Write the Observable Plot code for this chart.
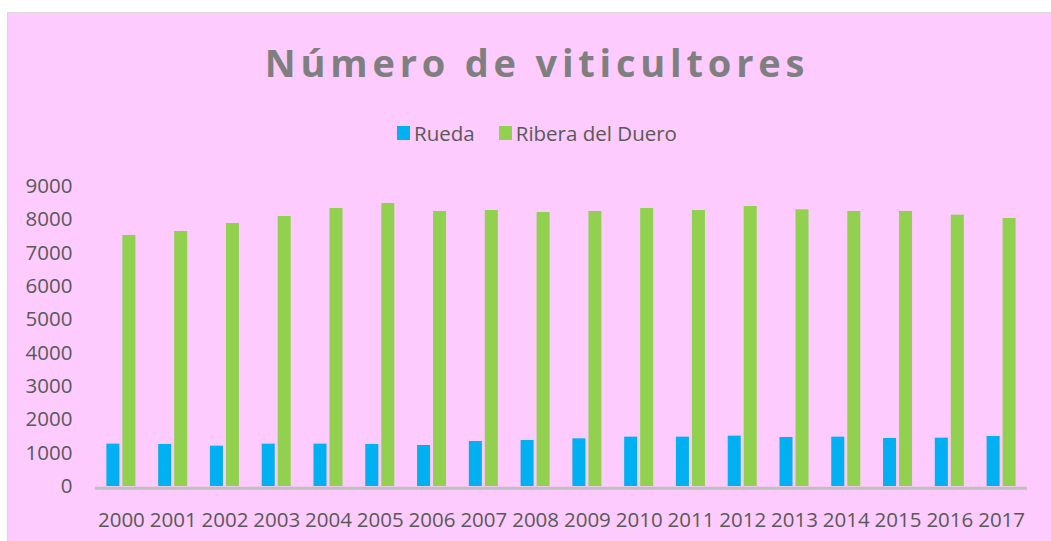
<!DOCTYPE html>
<html><head><meta charset="utf-8">
<script src="https://cdn.jsdelivr.net/npm/d3@7"></script>
<script src="https://cdn.jsdelivr.net/npm/@observablehq/plot@0.6"></script>
<style>
html,body{margin:0;padding:0;background:#fff;width:1051px;height:541px;overflow:hidden;font-family:"Open Sans",sans-serif;}
#card{position:absolute;left:7px;top:12px;width:1060px;height:540px;background:#fdcbfd;border-left:1px solid #d9d9d9;border-top:1px solid #d9d9d9;}
#title{position:absolute;left:7px;top:37px;width:1060px;text-align:center;font-size:38px;font-weight:700;color:#7f7f7f;letter-spacing:4.8px;line-height:50px;}
#legend{position:absolute;left:7px;top:119px;width:1060px;display:flex;justify-content:center;align-items:center;font-size:20.5px;color:#595959;line-height:28px;}
.sw{display:inline-block;width:13px;height:14px;margin-right:4px;}
.item{display:flex;align-items:center;margin:0 12px;}
#chart{position:absolute;left:0;top:160px;}
</style></head><body>
<div id="card"></div>
<div id="title">Número de viticultores</div>
<div id="legend"></div>
<div id="chart"></div>
<script>
const years = ["2000","2001","2002","2003","2004","2005","2006","2007","2008","2009","2010","2011","2012","2013","2014","2015","2016","2017"];
const seriesNames = ["Rueda","Ribera del Duero"];
const seriesColors = ["#00b0f0","#92d050"];
const rueda = [1270,1260,1210,1270,1270,1260,1230,1350,1380,1430,1480,1480,1510,1470,1480,1440,1450,1500];
const ribera = [7530,7650,7890,8100,8340,8490,8250,8280,8220,8250,8340,8280,8400,8300,8250,8250,8140,8040];
const yTicks = [0,1000,2000,3000,4000,5000,6000,7000,8000,9000];

const ruedaData = years.map((y,i)=>({year:y, series:seriesNames[0], value:rueda[i]}));
const riberaData = years.map((y,i)=>({year:y, series:seriesNames[1], value:ribera[i]}));

const legend = document.getElementById("legend");
seriesNames.forEach((n,i)=>{
  const it = document.createElement("span"); it.className="item";
  const sw = document.createElement("span"); sw.className="sw"; sw.style.background=seriesColors[i];
  it.appendChild(sw); it.appendChild(document.createTextNode(n));
  legend.appendChild(it);
});

// band = (1051-95-24)/18 = 51.78 px; bars 13 px wide with a 3 px gap, group centred
const band = (1051 - 95 - 24) / years.length;
const barW = 13, gap = 3;
const outer = (band - 2 * barW - gap) / 2;

const chart = Plot.plot({
  width: 1051,
  height: 381,
  marginLeft: 95,
  marginRight: 24,
  marginTop: 26,
  marginBottom: 55,
  style: {background: "transparent", fontFamily: "'Open Sans', sans-serif", fontSize: "20.5px", color: "#595959"},
  x: {domain: years, padding: 0, round: false, label: null, tickSize: 0, tickPadding: 26},
  y: {domain: [0, 9000], ticks: yTicks, tickSize: 0, tickPadding: 23, label: null, tickFormat: d => String(d)},
  color: {domain: seriesNames, range: seriesColors},
  marks: [
    Plot.ruleY([0], {stroke: "#bfbfbf", strokeWidth: 3, dy: 1.7}),
    Plot.barY(ruedaData, {x: "year", y: "value", fill: "series", insetLeft: outer, insetRight: outer + barW + gap}),
    Plot.barY(riberaData, {x: "year", y: "value", fill: "series", insetLeft: outer + barW + gap, insetRight: outer})
  ]
});
document.getElementById("chart").appendChild(chart);
</script>
</body></html>
